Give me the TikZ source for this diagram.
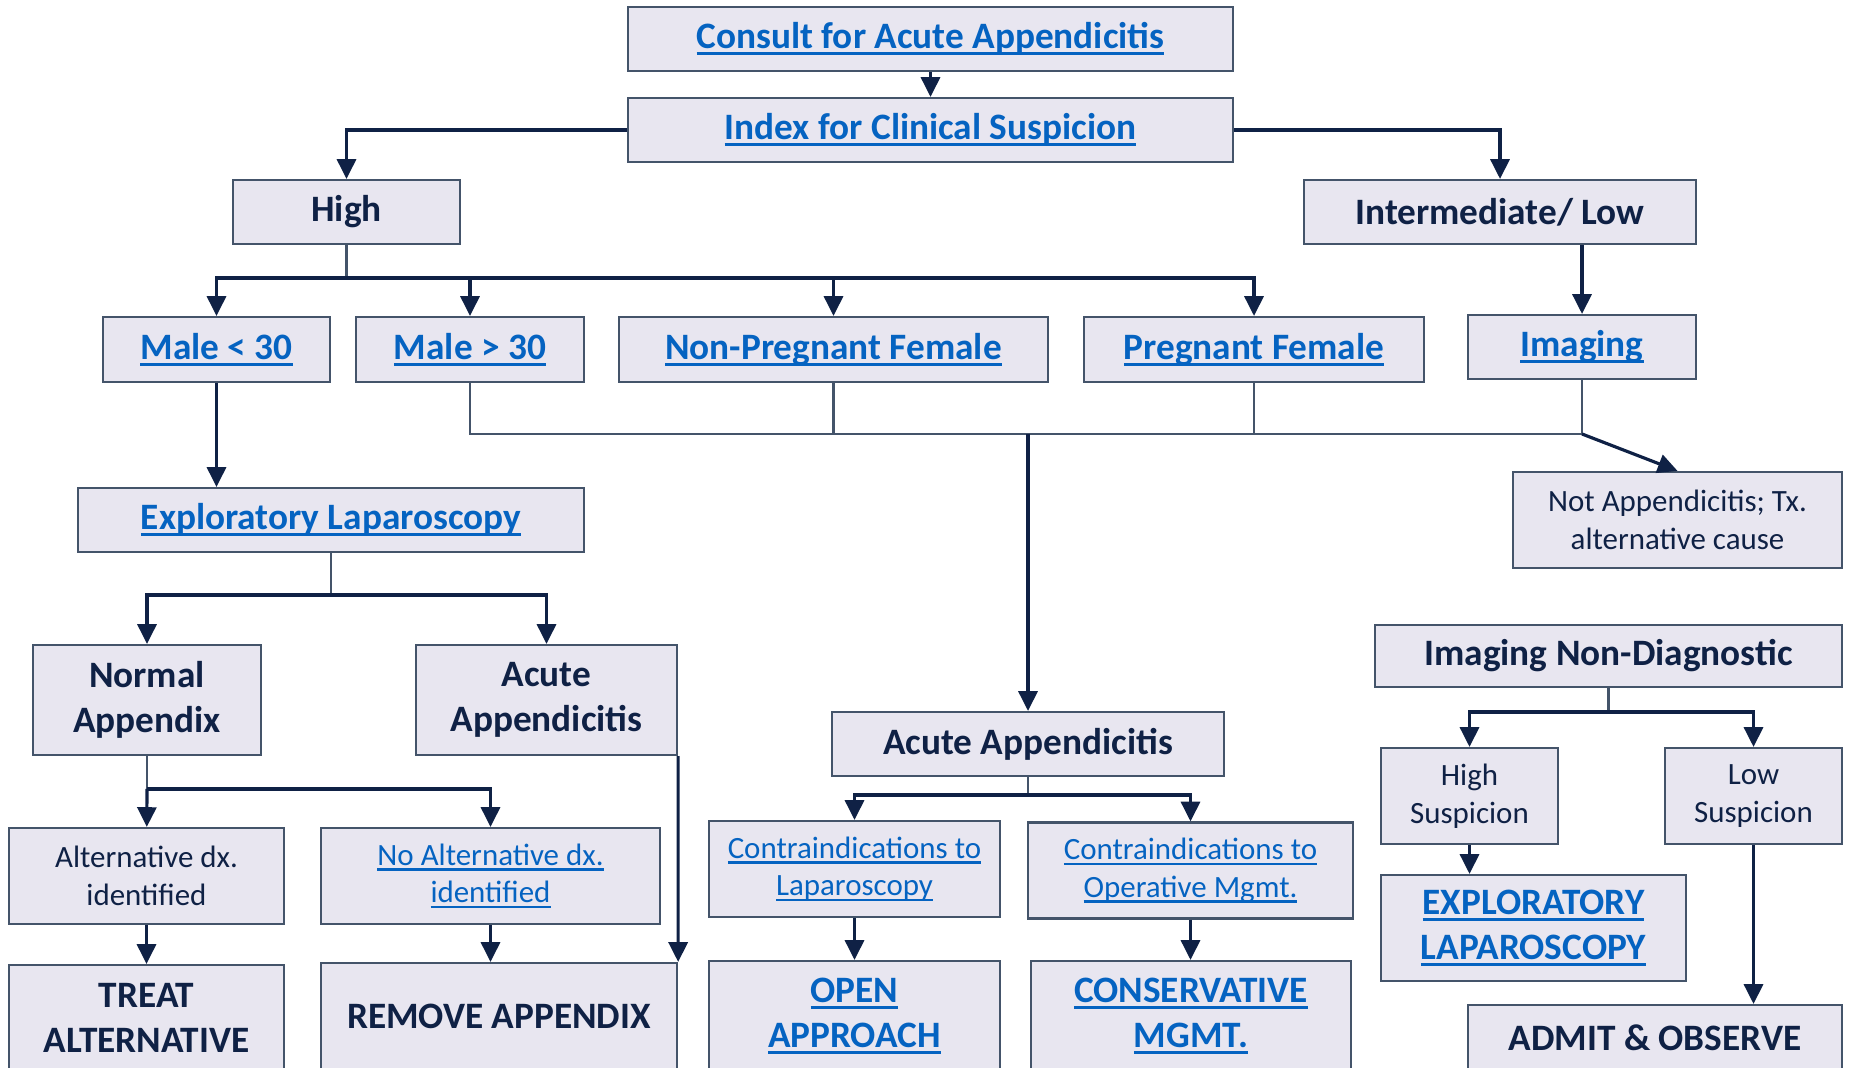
\documentclass[tikz,border=0pt]{standalone}
\usepackage{fontspec}
\setmainfont{Carlito}
\usepackage{tikz}
\usetikzlibrary{positioning, arrows.meta}

\definecolor{boxfill}{HTML}{E8E6F0}
\definecolor{boxline}{HTML}{44546A}
\definecolor{navy}{HTML}{0F2145}
\definecolor{linkblue}{HTML}{0563C1}
\newsavebox{\lnkbox}
\newcommand{\lnk}[1]{\textcolor{linkblue}{\sbox{\lnkbox}{#1}\rlap{\rule[-0.17em]{\wd\lnkbox}{0.08em}}\usebox{\lnkbox}}}

\begin{document}
\begin{tikzpicture}[x=0.01cm, y=-0.01cm,
    bx/.style={draw=boxline, fill=boxfill, line width=0.6pt, inner sep=0pt, align=center, text=navy, font=\bfseries\fontsize{10.6}{12.8}\selectfont},
    lt/.style={bx, font=\fontsize{8.8}{10.7}\selectfont},
    arr/.style={draw=navy, line width=0.9pt, -{Triangle[width=5.4pt,length=5.6pt]}},
    ln/.style={draw=boxline, line width=0.6pt}]
\useasboundingbox (0,0) rectangle (1849,1068);

% top of the tree
\node (consult) [bx, minimum width=6.05cm, minimum height=0.64cm] at (930.5,39) {\lnk{Consult for Acute Appendicitis}};
\node (index) [bx, minimum width=6.05cm, minimum height=0.64cm] at (930.5,130) {\lnk{Index for Clinical Suspicion}};
\node (high) [bx, minimum width=2.27cm, minimum height=0.64cm] at (346.5,212) {High};
\node (interm) [bx, minimum width=3.92cm, minimum height=0.64cm] at (1500,212) {Intermediate/ Low};

% patient groups
\node (mlt) [bx, minimum width=2.27cm, minimum height=0.65cm] at (216.5,349.5) {\lnk{Male < 30}};
\node (mgt) [bx, minimum width=2.28cm, minimum height=0.65cm] at (470,349.5) {\lnk{Male > 30}};
\node (nonpreg) [bx, minimum width=4.29cm, minimum height=0.65cm] at (833.5,349.5) {\lnk{Non-Pregnant Female}};
\node (preg) [bx, minimum width=3.40cm, minimum height=0.65cm] at (1254,349.5) {\lnk{Pregnant Female}};
\node (imaging) [bx, minimum width=2.28cm, minimum height=0.64cm] at (1582,347) {\lnk{Imaging}};
\node (notapp) [lt, minimum width=3.29cm, minimum height=0.96cm] at (1677.5,520) {Not Appendicitis; Tx.\\alternative cause};

% left branch
\node (explap) [bx, minimum width=5.06cm, minimum height=0.64cm] at (331,520) {\lnk{Exploratory Laparoscopy}};
\node (normal) [bx, minimum width=2.28cm, minimum height=1.10cm] at (147,700) {Normal\\Appendix};
\node (acuteL) [bx, minimum width=2.61cm, minimum height=1.10cm] at (546.5,700) {Acute\\Appendicitis};
\node (altdx) [lt, minimum width=2.75cm, minimum height=0.96cm] at (146.5,876) {Alternative dx.\\identified};
\node (noalt) [lt, minimum width=3.39cm, minimum height=0.96cm] at (490.5,876) {\lnk{No Alternative dx.}\\\lnk{identified}};
\node (treat) [bx, minimum width=2.75cm, minimum height=1.06cm] at (146.5,1018) {TREAT\\ALTERNATIVE};
\node (remove) [bx, minimum width=3.56cm, minimum height=1.06cm] at (499,1016) {REMOVE APPENDIX};

% middle branch
\node (acuteC) [bx, minimum width=3.92cm, minimum height=0.64cm] at (1028,744) {Acute Appendicitis};
\node (cilap) [lt, minimum width=2.91cm, minimum height=0.96cm] at (854.5,869) {\lnk{Contraindications to}\\\lnk{Laparoscopy}};
\node (ciop) [lt, minimum width=3.25cm, minimum height=0.96cm] at (1190.5,870.5) {\lnk{Contraindications to}\\\lnk{Operative Mgmt.}};
\node (open) [bx, minimum width=2.91cm, minimum height=1.10cm] at (854.5,1016) {\lnk{OPEN}\\\lnk{APPROACH}};
\node (conserv) [bx, minimum width=3.20cm, minimum height=1.10cm] at (1191,1016) {\lnk{CONSERVATIVE}\\\lnk{MGMT.}};

% right branch
\node (nondiag) [bx, minimum width=4.67cm, minimum height=0.62cm] at (1608.5,656) {Imaging Non-Diagnostic};
\node (highsus) [lt, minimum width=1.77cm, minimum height=0.96cm] at (1469.5,796) {High\\Suspicion};
\node (lowsus) [lt, minimum width=1.77cm, minimum height=0.96cm] at (1753.5,796) {Low\\Suspicion};
\node (explapB) [bx, minimum width=3.05cm, minimum height=1.06cm] at (1533.5,928) {\lnk{EXPLORATORY}\\\lnk{LAPAROSCOPY}};
\node (admit) [bx, minimum width=3.74cm, minimum height=0.66cm] at (1655,1038) {ADMIT \& OBSERVE};

% joints
\coordinate (hb) at (346.5,278);
\coordinate (jl) at (470,434);
\coordinate (jr) at (1582,434);
\coordinate (eb) at (331,595);
\coordinate (nb) at (147,789);
\coordinate (ab) at (1028,795);
\coordinate (db) at (1608.5,712);

\draw[arr] (consult) -- (index);
\draw[arr] (index.west) -| (high.north);
\draw[arr] (index.east) -| (interm.north);
\draw[arr] (imaging.north |- interm.south) -- (imaging.north);

\draw[ln] (high) -- (hb);
\draw[arr] (hb) -| (mlt.north);
\draw[arr] (hb) -| (mgt.north);
\draw[arr] (hb) -| (nonpreg.north);
\draw[arr] (hb) -| (preg.north);

\draw[ln] (mgt.south) -- (jl) -- (jr) -- (imaging.south);
\draw[ln] (nonpreg.south) -- (nonpreg.south |- jl);
\draw[ln] (preg.south) -- (preg.south |- jl);
\draw[arr] (acuteC.north |- jl) -- (acuteC.north);
\draw[arr] (jr) -- (notapp.north);

\draw[arr] (mlt.south) -- (mlt.south |- explap.north);
\draw[ln] (explap) -- (eb);
\draw[arr] (eb) -| (normal.north);
\draw[arr] (eb) -| (acuteL.north);
\draw[ln] (normal) -- (nb);
\draw[arr] (nb) -- (altdx);
\draw[arr] (nb) -| (noalt.north);
\draw[arr] (altdx) -- (treat);
\draw[arr] (noalt.south) -- (noalt.south |- remove.north);
\draw[arr] (acuteL.south east) -- (remove.north east);

\draw[ln] (acuteC) -- (ab);
\draw[arr] (ab) -| (cilap.north);
\draw[arr] (ab) -| (ciop.north);
\draw[arr] (cilap) -- (open);
\draw[arr] (ciop.south) -- (ciop.south |- conserv.north);

\draw[ln] (nondiag) -- (db);
\draw[arr] (db) -| (highsus.north);
\draw[arr] (db) -| (lowsus.north);
\draw[arr] (highsus.south) -- (highsus.south |- explapB.north);
\draw[arr] (lowsus.south) -- (lowsus.south |- admit.north);
\end{tikzpicture}
\end{document}
